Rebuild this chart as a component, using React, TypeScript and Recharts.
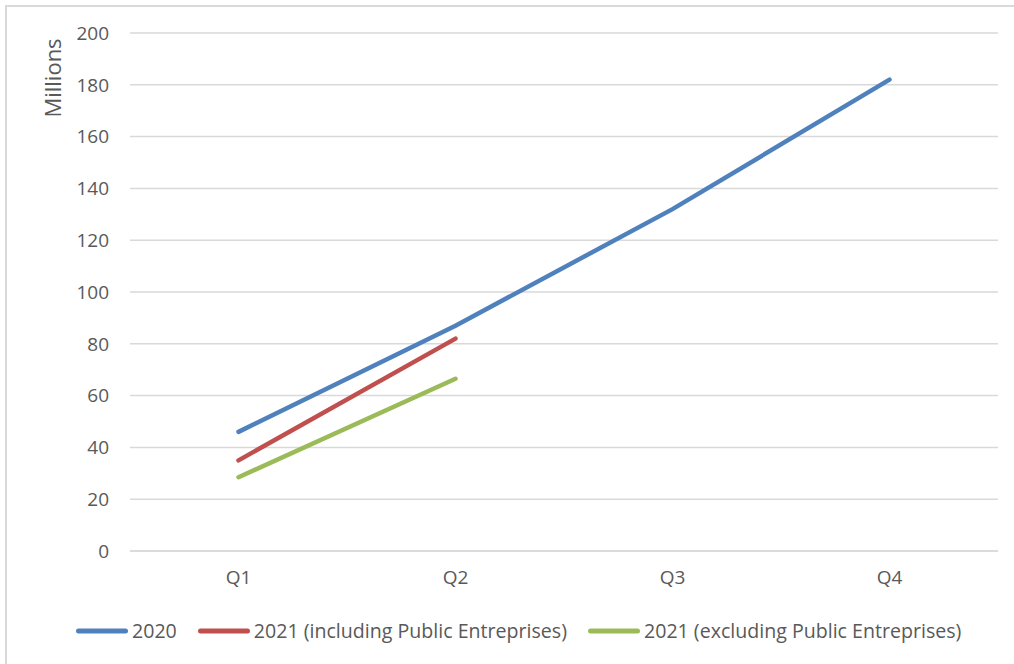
import React from "react";
import { LineChart, Line, XAxis, YAxis, CartesianGrid, Label } from "recharts";

const quarters = ["Q1", "Q2", "Q3", "Q4"];
const series2020 = [46, 87, 132, 182];
const series2021Incl = [35, 82, null, null];
const series2021Excl = [28.5, 66.5, null, null];
const yTicks = [0, 20, 40, 60, 80, 100, 120, 140, 160, 180, 200];

const seriesMeta = [
  { key: "s2020", name: "2020", color: "#4F81BD" },
  { key: "s2021i", name: "2021 (including Public Entreprises)", color: "#C0504D" },
  { key: "s2021e", name: "2021 (excluding Public Entreprises)", color: "#9BBB59" },
];

const data = quarters.map((q, i) => ({
  q,
  s2020: series2020[i],
  s2021i: series2021Incl[i],
  s2021e: series2021Excl[i],
}));

const FONT = "'Open Sans', Lato, sans-serif";
const TEXT = "#595959";

const LegendBox = () => (
  <div
    style={{
      position: "absolute",
      left: 76,
      top: 618,
      display: "flex",
      alignItems: "center",
      fontFamily: FONT,
      fontSize: 19.6,
      color: TEXT,
      lineHeight: "26px",
    }}
  >
    {seriesMeta.map((s, i) => (
      <div key={s.key} style={{ display: "flex", alignItems: "center", marginRight: i < 2 ? 21 : 0 }}>
        <svg width={52} height={10} style={{ marginRight: 4 }}>
          <line x1={2.5} y1={5} x2={49.5} y2={5} stroke={s.color} strokeWidth={5} strokeLinecap="round" />
        </svg>
        <span style={{ whiteSpace: "nowrap" }}>{s.name}</span>
      </div>
    ))}
  </div>
);

export default function App() {
  return (
    <div style={{ position: "absolute", left: 0, top: 0, width: 1014, height: 664, background: "#fff", overflow: "hidden" }}>
      <div
        style={{
          position: "absolute",
          left: 5,
          top: 5,
          width: 1020,
          height: 670,
          borderLeft: "2px solid #d9d9d9",
          borderTop: "2px solid #d9d9d9",
          boxSizing: "border-box",
        }}
      />
      <LineChart width={1014} height={664} data={data} margin={{ top: 33, right: 16, bottom: 83, left: 0 }}>
        <CartesianGrid vertical={false} stroke="#d9d9d9" strokeWidth={1.5} />
        <XAxis
          dataKey="q"
          height={30}
          padding={{ left: 108.5, right: 108.5 }}
          axisLine={{ stroke: "#d9d9d9", strokeWidth: 1.5 }}
          tickLine={false}
          tickSize={0}
          tickMargin={20}
          tick={{ fill: TEXT, fontSize: 19, fontFamily: FONT }}
        />
        <YAxis
          width={130}
          domain={[0, 200]}
          ticks={yTicks}
          interval={0}
          axisLine={false}
          tickLine={false}
          tickSize={0}
          tickMargin={21}
          tick={{ fill: TEXT, fontSize: 19, fontFamily: FONT }}
        >
          <Label
            value="Millions"
            content={() => (
              <text
                x={61}
                y={78}
                transform="rotate(-90 61 78)"
                textAnchor="middle"
                fill={TEXT}
                fontSize={22}
                fontFamily={FONT}
              >
                Millions
              </text>
            )}
          />
        </YAxis>
        {seriesMeta.map((s) => (
          <Line
            key={s.key}
            dataKey={s.key}
            name={s.name}
            stroke={s.color}
            strokeWidth={4.5}
            strokeLinecap="round"
            dot={false}
            activeDot={false}
            connectNulls={false}
            isAnimationActive={false}
          />
        ))}
      </LineChart>
      <LegendBox />
    </div>
  );
}
